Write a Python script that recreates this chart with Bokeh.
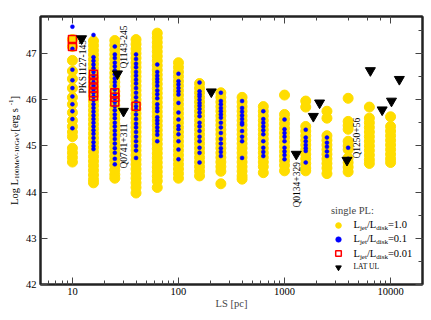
import math
from bokeh.plotting import figure
from bokeh.layouts import row
from bokeh.models import (Range1d, LogAxis, LinearAxis, Label, Legend, LegendItem,
                          CustomJSTickFormatter, ColumnDataSource)
from bokeh.embed import file_html
from bokeh.resources import INLINE

# ---------------- data ----------------
LS = [10, 15.8, 25.1, 39.8, 63.1, 100, 158, 251, 398, 631, 1000, 1585, 2512, 3981, 6310, 10000]

yellow_L = [
    [47.3, 47.15, 46.85, 46.62, 46.45, 46.25, 46.05, 45.9, 45.72, 45.55, 45.42, 45.3, 45.2, 44.95, 44.85, 44.75, 44.65],
    [47.27, 47.17, 47.07, 46.97, 46.87, 46.77, 46.67, 46.57, 46.47, 46.37, 46.27, 46.17, 46.07, 45.97, 45.87, 45.77,
     45.67, 45.57, 45.47, 45.37, 45.27, 45.17, 45.07, 44.97, 44.87, 44.77, 44.67, 44.57, 44.47, 44.37, 44.27, 44.2],
    [47.28, 47.18, 47.08, 46.98, 46.88, 46.78, 46.68, 46.58, 46.48, 46.38, 46.28, 46.18, 46.08, 45.98, 45.88, 45.78,
     45.68, 45.58, 45.48, 45.38, 45.28, 45.18, 45.08, 44.98, 44.88, 44.78, 44.68, 44.58, 44.48, 44.38, 44.3],
    [47.3, 47.2, 47.1, 47.0, 46.9, 46.8, 46.7, 46.6, 46.5, 46.4, 46.3, 46.2, 46.1, 46.0, 45.9, 45.8, 45.7, 45.6,
     45.5, 45.4, 45.3, 45.2, 45.1, 45.0, 44.9, 44.8, 44.7, 44.6, 44.5, 44.4, 44.3, 44.2, 44.1, 43.98],
    [47.44, 47.34, 47.24, 47.14, 47.04, 46.94, 46.84, 46.74, 46.64, 46.54, 46.44, 46.34, 46.24, 46.14, 46.04, 45.94,
     45.84, 45.74, 45.64, 45.54, 45.44, 45.34, 45.24, 45.14, 45.04, 44.94, 44.84, 44.74, 44.64, 44.54, 44.44, 44.34,
     44.24, 44.1],
    [46.8, 46.7, 46.6, 46.5, 46.4, 46.3, 46.2, 46.1, 46.0, 45.9, 45.8, 45.7, 45.6, 45.5, 45.4, 45.3, 45.2, 45.1,
     45.0, 44.9, 44.8, 44.7, 44.6, 44.5, 44.4, 44.3],
    [46.35, 46.25, 46.15, 46.05, 45.95, 45.85, 45.75, 45.65, 45.55, 45.45, 45.35, 45.25, 45.15, 45.05, 44.95, 44.85,
     44.75, 44.65, 44.55, 44.45, 44.35],
    [46.15, 46.05, 45.95, 45.85, 45.75, 45.65, 45.55, 45.45, 45.35, 45.25, 45.15, 45.05, 44.95, 44.85, 44.75, 44.65,
     44.55, 44.45, 44.18],
    [46.05, 45.95, 45.85, 45.75, 45.65, 45.55, 45.45, 45.35, 45.25, 45.15, 45.05, 44.95, 44.85, 44.75, 44.65, 44.55,
     44.45, 44.35, 44.28],
    [45.85, 45.75, 45.65, 45.55, 45.45, 45.35, 45.25, 45.15, 45.05, 44.95, 44.85, 44.75, 44.65, 44.55, 44.42],
    [46.1, 45.68, 45.58, 45.48, 45.38, 45.28, 45.18, 45.08, 44.98, 44.88, 44.78, 44.68, 44.58, 44.46],
    [45.97, 45.84, 45.42, 45.32, 45.22, 45.12, 45.02, 44.92, 44.82, 44.72, 44.62, 44.52, 44.46],
    [45.75, 45.6, 45.22, 45.12, 45.02, 44.92, 44.82, 44.72, 44.62, 44.52, 44.4],
    [46.03, 45.53, 45.44, 45.36, 45.1, 45.0, 44.92, 44.74, 44.64, 44.54, 44.44],
    [45.84, 45.6, 45.5, 45.4, 45.3, 45.2, 45.1, 45.0, 44.9, 44.8, 44.7, 44.62],
    [45.63, 45.42, 45.32, 45.22, 45.12, 45.02, 44.92, 44.82, 44.72, 44.64],
]

blue_L = [
    [47.58, 47.1, 46.65, 46.42, 46.25, 46.07, 45.9, 45.75, 45.58, 45.38],
    [47.4, 46.92, 46.84, 46.76, 46.68, 46.6, 46.52, 46.45, 46.37, 46.3, 46.22, 46.15, 46.07, 45.99, 45.9, 45.82,
     45.74, 45.66, 45.58, 45.5, 45.42, 45.34, 45.26, 45.17, 45.08, 45.0, 44.93],
    [47.15, 46.98, 46.9, 46.8, 46.72, 46.63, 46.55, 46.46, 46.38, 46.3, 46.22, 46.12, 46.03, 45.95, 45.86, 45.77,
     45.68, 45.6, 45.5, 45.42, 45.33, 45.24, 45.15, 45.05, 44.95, 44.85, 44.72, 44.6],
    [46.98, 46.88, 46.78, 46.7, 46.6, 46.52, 46.43, 46.35, 46.25, 46.15, 46.05, 45.95, 45.86, 45.78, 45.68, 45.58,
     45.48, 45.4, 45.3, 45.2, 45.1, 45.0, 44.9, 44.74],
    [46.76, 46.6, 46.52, 46.45, 46.38, 46.3, 46.2, 46.12, 46.03, 45.9, 45.82, 45.75, 45.62, 45.55, 45.48, 45.4,
     45.32, 45.24, 45.1],
    [46.56, 46.4, 46.33, 46.25, 46.18, 46.11, 45.93, 45.72, 45.57, 45.43, 45.36, 45.25, 45.1, 44.92, 44.71],
    [46.37, 46.18, 46.12, 46.07, 46.0, 45.93, 45.87, 45.8, 45.72, 45.64, 45.5, 45.42, 45.32, 45.2, 45.1, 44.96,
     44.85, 44.64],
    [46.15, 45.97, 45.9, 45.82, 45.75, 45.68, 45.61, 45.5, 45.4, 45.28, 45.15, 45.05, 44.95, 44.87, 44.78],
    [45.97, 45.82, 45.74, 45.66, 45.58, 45.5, 45.46, 45.32, 45.2, 45.1, 44.74],
    [45.75, 45.58, 45.5, 45.42, 45.34, 45.25, 45.1, 44.96, 44.87, 44.78],
    [45.57, 45.36, 45.28, 45.2, 45.1, 44.96, 44.88, 44.8, 44.71],
    [45.35, 45.18, 45.1, 45.02, 44.95, 44.89, 44.64],
    [45.18, 45.07, 44.98, 44.88, 44.78],
    [44.96, 44.72],
    [],
    [],
]

red_L = [
    [47.3, 47.15],
    [46.55, 46.45, 46.35, 46.25, 46.15, 46.08],
    [46.15, 46.05, 45.95],
    [45.86],
    [], [], [], [], [], [], [], [], [], [], [], [],
]

ul_LS = [12.2, 26.6, 30.3, 204, 1290, 1870, 2140, 3880, 6450, 8330, 10200, 12100]
ul_L = [47.32, 46.56, 45.75, 46.17, 44.82, 45.64, 45.93, 44.69, 46.63, 45.78, 45.97, 46.44]

source_names = ["PKS1127-145", "Q1143-245", "Q0741+311", "Q0134+329", "Q1250+56"]

y_ticks = [42, 43, 44, 45, 46, 47]


def flatten(cols):
    xs, ys = [], []
    for x, col in zip(LS, cols):
        xs += [x] * len(col)
        ys += col
    return dict(x=xs, y=ys)


# ---------------- layout helpers ----------------
X0, X1, Y0, Y1 = 5, 20000, 42, 47.8
FL, FR, FT, FB = 40, 422, 16, 284  # frame edges in window pixels
TOTAL_W, TOTAL_H, BOTTOM = 424, 314, 30
SIDE_W = 21  # width of the strip holding the y-axis title
FONT = "Liberation Serif"


def px2x(px):
    return 10 ** (math.log10(X0) + (px - FL) / (FR - FL) * (math.log10(X1) - math.log10(X0)))


def py2y(py):
    return Y0 + (FB - py) / (FB - FT) * (Y1 - Y0)


CW = {'L': .611, 'o': .5, 'g': .5, ' ': .25, 'M': .889, 'e': .444, 'V': .722, '-': .333, 'G': .722,
      '[': .333, 'r': .333, 's': .389, ']': .333, 'j': .278, 't': .278, '/': .278, 'd': .5, 'i': .278,
      'k': .5, '=': .564, '.': .25, 'A': .722, 'T': .611, 'U': .722}


def tw(text, size):
    return sum(CW.get(c, .5) for c in text) * size


# ----- strip with the y-axis title (pixel coordinates) -----
side = figure(width=SIDE_W, height=TOTAL_H, output_backend="svg", toolbar_location=None,
              x_range=Range1d(0, SIDE_W), y_range=Range1d(FB, FT),
              x_axis_location=None, y_axis_location=None,
              min_border_left=0, min_border_right=0, min_border_top=FT, min_border_bottom=BOTTOM)
side.outline_line_color = None
side.xgrid.visible = False
side.ygrid.visible = False
side.background_fill_color = "white"
side.border_fill_color = "white"

ypieces = [("Log L", 10.5, 0), ("100MeV-10GeV", 7, 2.5), (" [erg s", 10.5, 0), ("-1", 7, -4), ("]", 10.5, 0)]
total = sum(tw(t, s) for t, s, _ in ypieces)
cur = (FT + FB) / 2 + total / 2
for t, s, dx in ypieces:
    side.add_layout(Label(x=14 + dx, y=cur, text=t, angle=math.pi / 2, text_align="left",
                          text_baseline="middle", text_font=FONT, text_font_size=f"{s}px",
                          text_color="black"))
    cur -= tw(t, s)

# ----- main plot -----
p = figure(width=TOTAL_W - SIDE_W, height=TOTAL_H, x_axis_type="log", output_backend="svg",
           toolbar_location=None, x_range=Range1d(X0, X1), y_range=Range1d(Y0, Y1),
           min_border_left=FL - SIDE_W, min_border_right=2, min_border_top=FT, min_border_bottom=BOTTOM)
p.background_fill_color = "white"
p.border_fill_color = "white"
p.outline_line_color = "#222222"
p.outline_line_width = 2
p.xgrid.visible = False
p.ygrid.visible = False

yellow = p.scatter("x", "y", source=ColumnDataSource(flatten(yellow_L)), marker="circle", size=10,
                   fill_color="#FFDD00", line_color="#FFDD00")
blue = p.scatter("x", "y", source=ColumnDataSource(flatten(blue_L)), marker="circle", size=4,
                 fill_color="#0000FF", line_color="#0000FF", line_width=0.5)
red = p.scatter("x", "y", source=ColumnDataSource(flatten(red_L)), marker="square", size=8,
                fill_color=None, line_color="#FF0000", line_width=1.5)
tri = p.scatter("x", "y", source=ColumnDataSource(dict(x=ul_LS, y=ul_L)), marker="inverted_triangle",
                size=10, fill_color="black", line_color="black")


def style_axis(ax, labels=True):
    ax.axis_line_color = "#222222"
    ax.axis_line_width = 2
    ax.major_tick_in = 7
    ax.major_tick_out = 0
    ax.minor_tick_in = 4
    ax.minor_tick_out = 0
    ax.major_tick_line_color = "#444444"
    ax.minor_tick_line_color = "#444444"
    if labels:
        ax.major_label_text_font = FONT
        ax.major_label_text_font_size = "10.5px"
        ax.major_label_text_color = "black"
    else:
        ax.formatter = CustomJSTickFormatter(code="return ''")
        ax.major_label_text_font_size = "1px"
        ax.major_label_standoff = 0


xa = p.xaxis[0]
style_axis(xa)
xa.formatter = CustomJSTickFormatter(code="return tick.toFixed(0)")
xa.major_label_standoff = 3
xa.axis_label = "LS [pc]"
xa.axis_label_text_font = FONT
xa.axis_label_text_font_size = "10.5px"
xa.axis_label_text_font_style = "normal"
xa.axis_label_standoff = 0

ya = p.yaxis[0]
style_axis(ya)
ya.ticker = y_ticks
ya.ticker.num_minor_ticks = 2
ya.major_label_standoff = 4

top = LogAxis()
style_axis(top, labels=False)
p.add_layout(top, "above")
right = LinearAxis()
right.ticker.num_minor_ticks = 2
style_axis(right, labels=False)
p.add_layout(right, "right")

# ----- source names (rotated) -----
name_pos = [(82, 93), (123, 68), (123, 168), (296, 207), (356, 158)]
for name, (nx, ny) in zip(source_names, name_pos):
    p.add_layout(Label(x=px2x(nx), y=py2y(ny), text=name, angle=math.pi / 2, text_align="left",
                       text_baseline="middle", text_font=FONT, text_font_size="9.5px", text_color="black"))

# ----- legend -----
legend = Legend(items=[LegendItem(label="", renderers=[r]) for r in (yellow, blue, red, tri)],
                location=(291, 10), title="single PL:", title_text_font=FONT, title_text_font_size="10.5px",
                title_text_font_style="normal", title_standoff=2, padding=0, margin=0, spacing=0,
                glyph_height=14, glyph_width=14, label_height=14, label_width=0, label_standoff=0,
                border_line_color=None, background_fill_alpha=0)
p.add_layout(legend)

entries = [("1.0", 224), ("0.1", 238), ("0.01", 253)]
for val, ey in entries:
    pieces = [("L", 10.5, 0), ("jet", 7, 3), ("/L", 10.5, 0), ("disk", 7, 3), ("=" + val, 10.5, 0)]
    cx = 353
    for t, s, dy in pieces:
        p.add_layout(Label(x=px2x(cx), y=py2y(ey + dy), text=t, text_align="left", text_baseline="middle",
                           text_font=FONT, text_font_size=f"{s}px", text_color="black"))
        cx += tw(t, s)
p.add_layout(Label(x=px2x(353), y=py2y(266), text="LAT UL", text_align="left", text_baseline="middle",
                   text_font=FONT, text_font_size="7.5px", text_color="black"))

layout = row(side, p, spacing=0)
open("out.html", "w").write(file_html(layout, INLINE))
